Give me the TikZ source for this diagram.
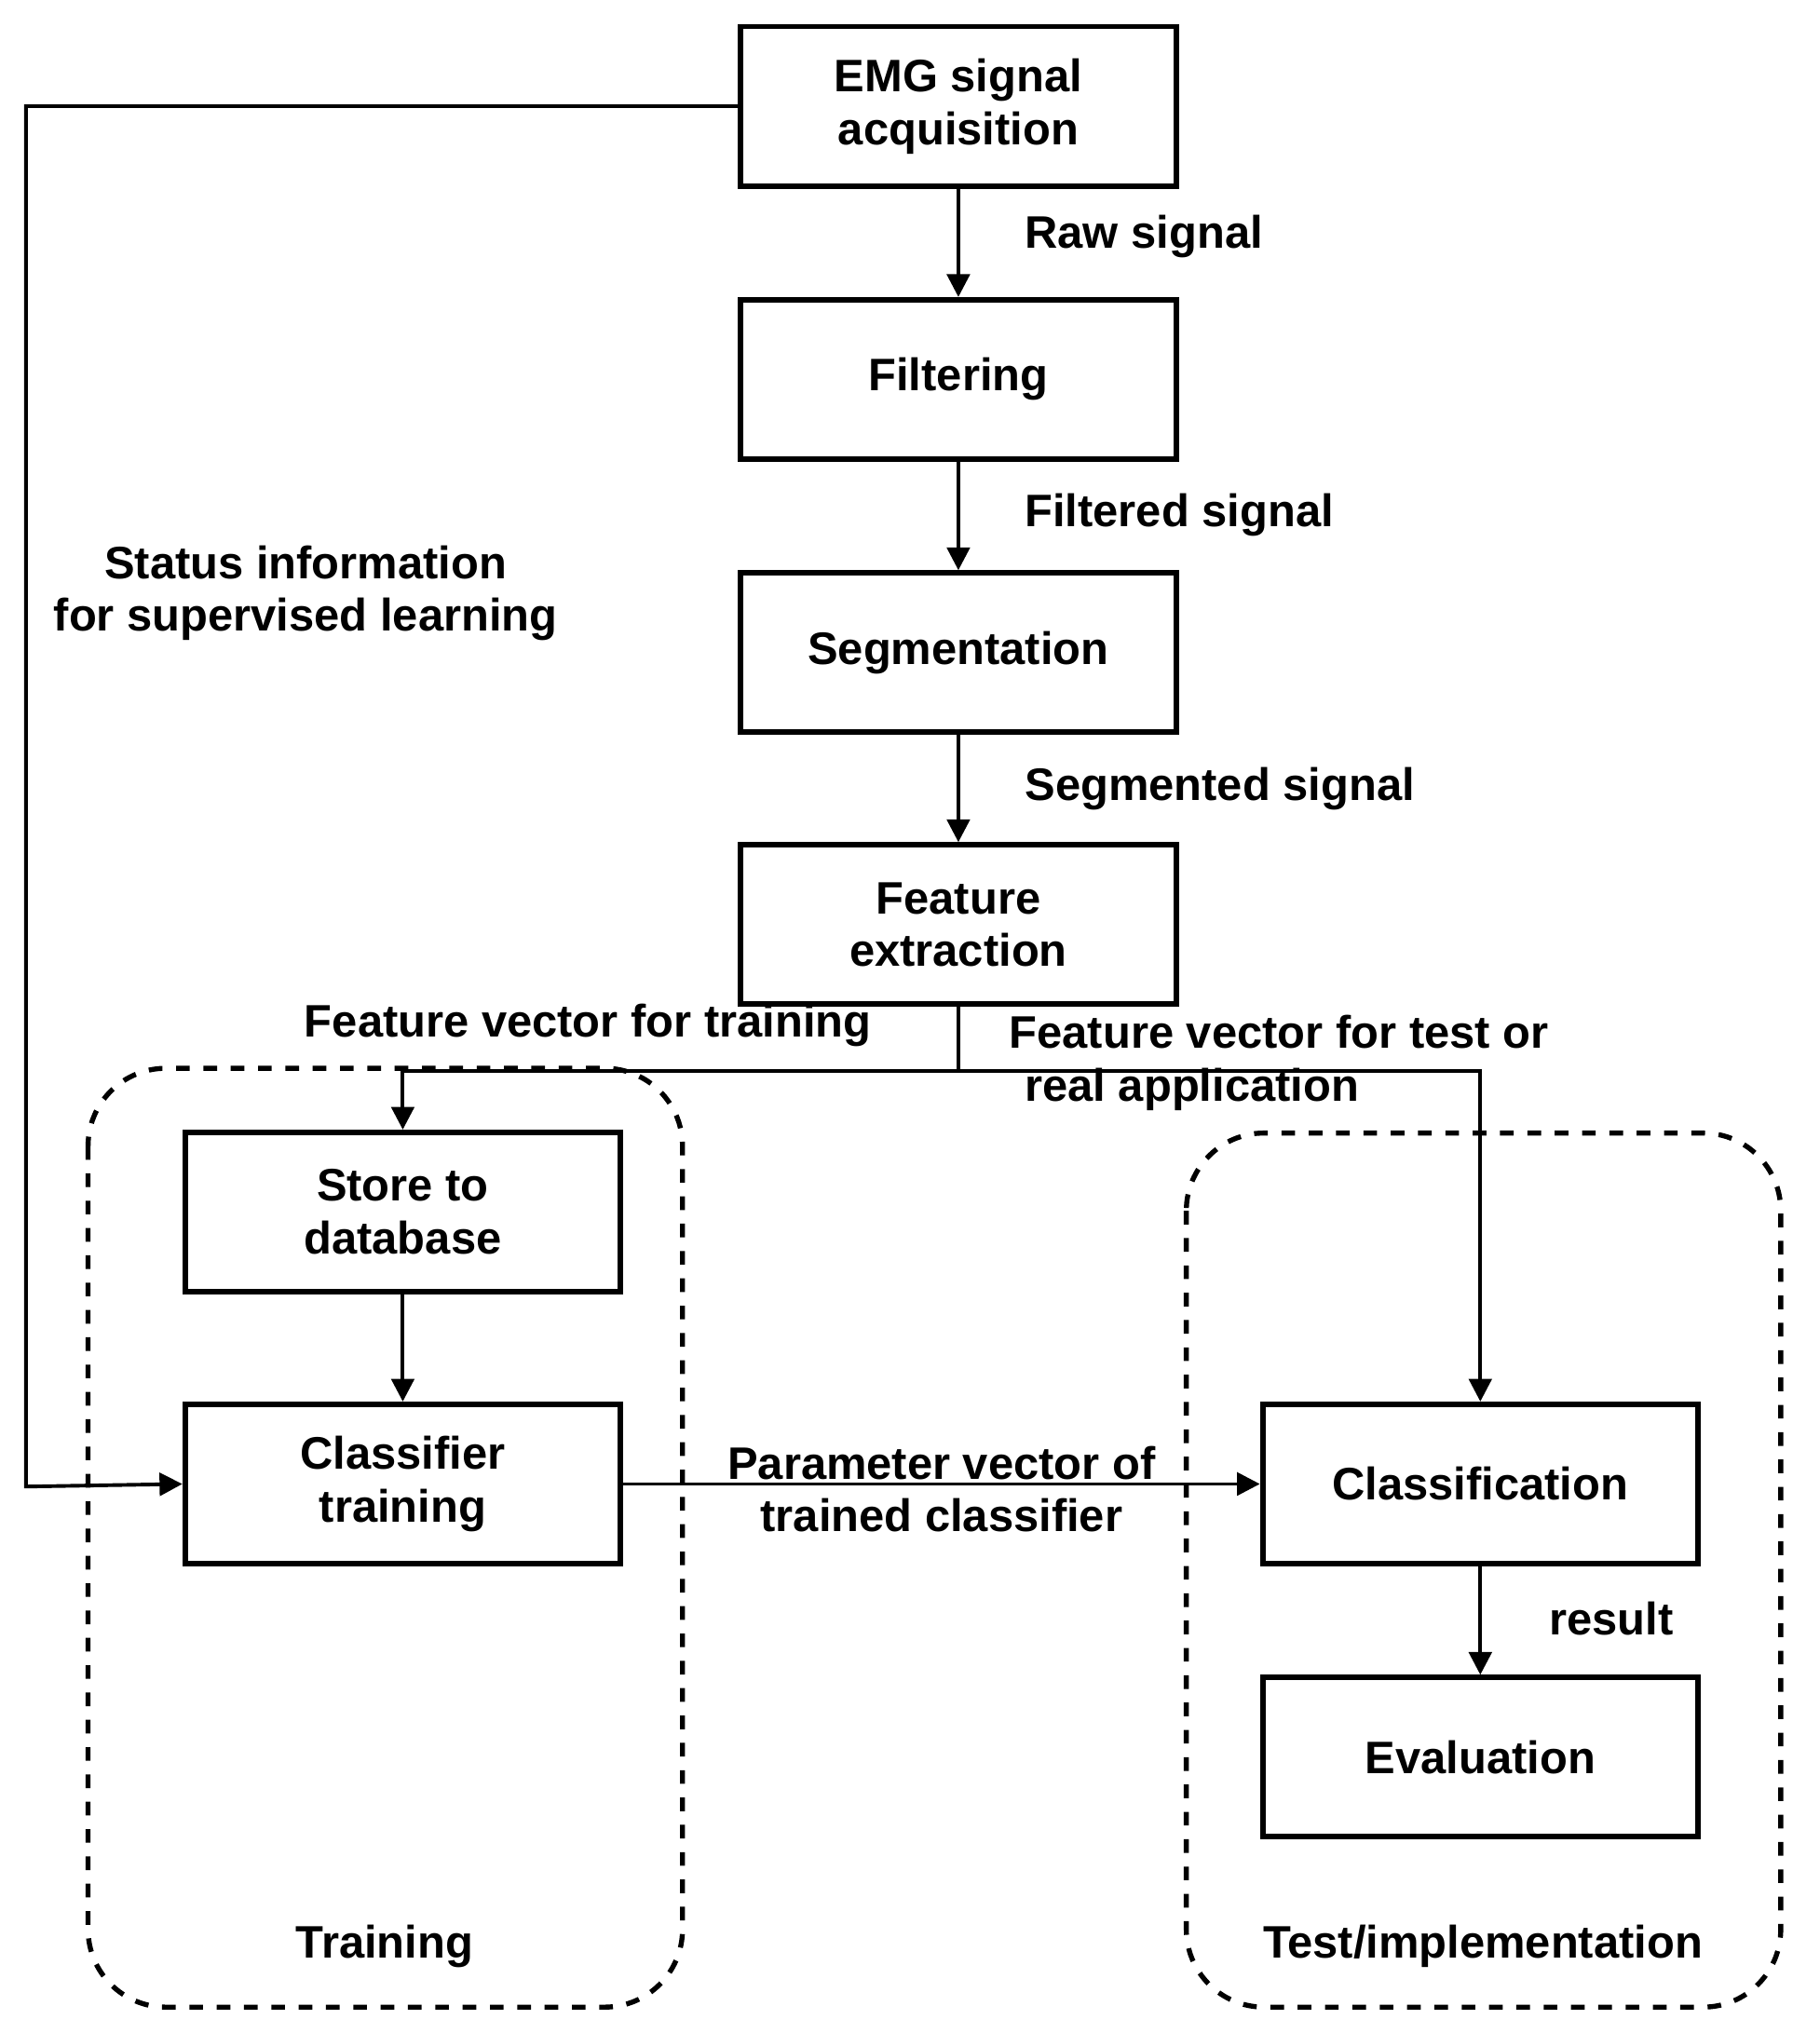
\documentclass[tikz,border=0pt]{standalone}
\usepackage{fontspec}
\setmainfont{Liberation Sans}
\usetikzlibrary{arrows.meta}
\tikzstyle{blk} = [draw, line width=1.2pt, minimum width=3.36cm, minimum height=1.23cm, align=center, inner sep=0pt]
\tikzstyle{grp} = [draw, dashed, line width=1.1pt, rounded corners=0.6cm]
\tikzstyle{lbl} = [align=center, inner sep=0pt]
\tikzstyle{every node}=[font=\fontsize{10}{11.6}\selectfont\bfseries]
\begin{document}
\begin{tikzpicture}[x=0.01cm, y=-0.01cm, >={Triangle[length=5pt,width=5pt]}, line width=0.8pt]
  \useasboundingbox (0,0) rectangle (1405,1570);
  % groups
  \draw[grp] (68,825) rectangle (527,1550);
  \draw[grp] (916,875) rectangle (1375,1550);
  % main chain
  \node[blk] (emg)  at (740,82)  {EMG signal\\acquisition};
  \node[blk] (filt) at (740,293) {Filtering};
  \node[blk] (seg)  at (740,504) {Segmentation};
  \node[blk] (feat) at (740,714) {Feature\\extraction};
  \node[blk] (store) at (311,936)  {Store to\\database};
  \node[blk] (train) at (311,1146) {Classifier\\training};
  \node[blk] (cls)  at (1143,1146) {Classification};
  \node[blk] (eval) at (1143,1357) {Evaluation};
  \coordinate (split) at (740,827);
  \draw[->] (emg) -- (filt);
  \draw[->] (filt) -- (seg);
  \draw[->] (seg) -- (feat);
  \draw (feat) -- (split);
  \draw[->] (split) -| (store);
  \draw[->] (split) -| (cls);
  \draw[->] (store) -- (train);
  \draw[->] (train) -- (cls);
  \draw[->] (cls) -- (eval);
  \draw[->] (emg.west) -- (20,82) -- (20,1148) -- (train.west);
  % labels
  \node[lbl, anchor=west] at (790,183) {Raw signal};
  \node[lbl, anchor=west] at (790,398) {Filtered signal};
  \node[lbl, anchor=west] at (790,609) {Segmented signal};
  \node[lbl] at (454,792) {Feature vector for training};
  \node[lbl, anchor=west, align=left] at (778,821) {Feature vector for test or\\\hspace*{0.12cm}real application};
  \node[lbl] at (236,458) {Status information\\for supervised learning};
  \node[lbl] at (727,1150) {Parameter vector of\\trained classifier};
  \node[lbl] at (1244,1250) {result};
  \node[lbl] at (297,1503) {Training};
  \node[lbl] at (1145,1503) {Test/implementation};
\end{tikzpicture}
\end{document}
